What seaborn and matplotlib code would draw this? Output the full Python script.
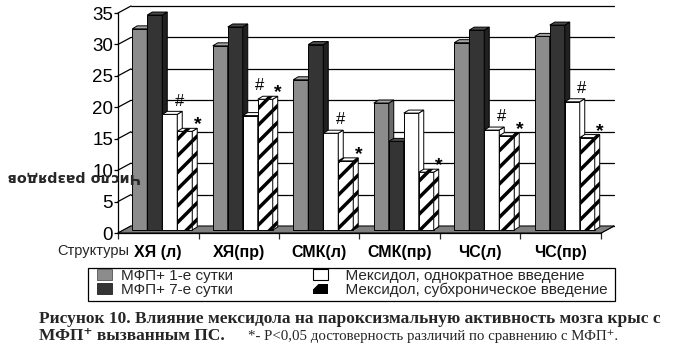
import matplotlib
matplotlib.use("Agg")
import numpy as np
import pandas as pd
import seaborn as sns
import matplotlib.pyplot as plt
from matplotlib.patches import Polygon, Patch, Rectangle
from matplotlib.transforms import ScaledTranslation
from matplotlib.lines import Line2D

# ---------------- data ----------------
structures = ["ХЯ (л)", "ХЯ(пр)", "СМК(л)", "СМК(пр)", "ЧС(л)", "ЧС(пр)"]
series_names = ["МФП+ 1-е сутки", "МФП+ 7-е сутки",
                "Мексидол, однократное введение",
                "Мексидол, субхроническое введение"]
mfp_day1 = [32.0, 29.3, 23.9, 20.2, 29.8, 30.8]
mfp_day7 = [34.2, 32.3, 29.5, 14.1, 31.8, 32.6]
mexidol_single = [18.4, 18.2, 15.4, 18.6, 15.9, 20.4]
mexidol_subchronic = [15.7, 20.8, 11.0, 9.2, 15.0, 14.7]
hash_marked = [True, True, True, False, True, True]
star_marked = [True, True, True, True, True, True]
y_ticks = [0, 5, 10, 15, 20, 25, 30, 35]

# ---------------- style ----------------
sns.set_theme(style="white")
plt.rcParams["font.family"] = ["Liberation Sans", "DejaVu Sans"]
plt.rcParams["hatch.linewidth"] = 2.5

W, H = 675, 345
fig = plt.figure(figsize=(W / 100, H / 100), dpi=100)
fig.patch.set_facecolor("white")
ax_left, ax_right, ax_bottom, ax_top = 118, 601, 233, 13
ax = fig.add_axes([ax_left / W, 1 - ax_bottom / H,
                   (ax_right - ax_left) / W, (ax_bottom - ax_top) / H])
ax.set_facecolor("none")

colors = {series_names[0]: "#8c8c8c", series_names[1]: "#343434",
          series_names[2]: "#ffffff", series_names[3]: "#ffffff"}
top_colors = ["#a6a6a6", "#4a4a4a", "#ffffff", "#ffffff"]
side_colors = ["#6a6a6a", "#202020", "#ffffff", "#ffffff"]

rows = []
for name, vals in zip(series_names, [mfp_day1, mfp_day7, mexidol_single, mexidol_subchronic]):
    for s, v in zip(structures, vals):
        rows.append({"structure": s, "series": name, "value": v})
df = pd.DataFrame(rows)

sns.barplot(data=df, x="structure", y="value", hue="series",
            order=structures, hue_order=series_names, palette=colors,
            width=0.745, saturation=1, edgecolor="black", linewidth=0.7,
            errorbar=None, legend=False, ax=ax)

ax.set_xlim(-0.5, len(structures) - 0.5)
ax.set_ylim(0, 35)

# pixel -> data conversions (axes geometry is fixed)
xpp = (len(structures)) / (ax_right - ax_left)
ypp = 35 / (ax_bottom - ax_top)

def shift(dx, dy):
    return ax.transData + ScaledTranslation(dx / 100, dy / 100, fig.dpi_scale_trans)

bar_tr = shift(4, 3)
ddx, ddy = 5 * xpp, 3 * ypp          # bar depth
fdx, fdy = 13 * xpp, 7 * ypp         # wall / floor depth

# 3D-ish bars
for k, cont in enumerate(ax.containers):
    for p in cont:
        x, w, h = p.get_x(), p.get_width(), p.get_height()
        p.set_transform(bar_tr)
        p.set_zorder(3 + k)
        hatch = "//" if k == 3 else None
        if hatch:
            p.set_hatch(hatch)
        side = Polygon([(x + w, 0), (x + w + ddx, ddy), (x + w + ddx, h + ddy), (x + w, h)],
                       closed=True, facecolor=side_colors[k], edgecolor="black",
                       linewidth=0.7, hatch=hatch, transform=bar_tr, zorder=3 + k, clip_on=False)
        top = Polygon([(x, h), (x + w, h), (x + w + ddx, h + ddy), (x + ddx, h + ddy)],
                      closed=True, facecolor=top_colors[k], edgecolor="black",
                      linewidth=0.7, hatch=hatch, transform=bar_tr, zorder=3 + k, clip_on=False)
        ax.add_patch(side)
        ax.add_patch(top)

# floor
xl, xr = -0.5, len(structures) - 0.5
ax.add_patch(Polygon([(xl, 0), (xr, 0), (xr + fdx, fdy), (xl + fdx, fdy)], closed=True,
                     facecolor="#808080", edgecolor="black", linewidth=0.7,
                     zorder=1, clip_on=False))
# back wall gridlines + connectors
for v in y_ticks:
    ax.add_line(Line2D([xl + fdx, xr + fdx], [v + fdy, v + fdy], color="black",
                       linewidth=0.9, zorder=0.5, clip_on=False))
    ax.add_line(Line2D([xl, xl + fdx], [v, v + fdy], color="black",
                       linewidth=0.9, zorder=0.5, clip_on=False))
ax.add_line(Line2D([xr, xr + fdx], [0, fdy], color="black", linewidth=0.9,
                   zorder=0.5, clip_on=False))

# significance marks
bar_w = 0.745 / 4
for i in range(len(structures)):
    xc_white = i - 0.745 / 2 + bar_w * 2.5
    xc_hatch = i - 0.745 / 2 + bar_w * 3.5
    if hash_marked[i]:
        ax.text(xc_white + 0.12, max(mexidol_single[i], mexidol_subchronic[i]) + 1.4, "#",
                ha="center", va="baseline", fontsize=12, color="black",
                transform=bar_tr, zorder=10)
    if star_marked[i]:
        ax.text(xc_hatch + 0.16, mexidol_subchronic[i] + 0.3, "*",
                ha="center", va="baseline", fontsize=14, fontweight="bold",
                color="black", transform=bar_tr, zorder=10)

# axes styling
for s in ["top", "right"]:
    ax.spines[s].set_visible(False)
for s in ["left", "bottom"]:
    ax.spines[s].set_color("black")
    ax.spines[s].set_linewidth(0.9)
    ax.spines[s].set_zorder(12)
ax.set_yticks(y_ticks)
ax.set_yticklabels([str(t) for t in y_ticks], fontsize=13.5)
ax.tick_params(axis="y", direction="out", length=3, width=0.9, pad=0.5, colors="black", left=True)
ax.set_xticks(range(len(structures)))
ax.set_xticklabels(structures, fontsize=11.5, fontweight="bold")
ax.set_xticks([b - 0.5 for b in range(len(structures) + 1)], minor=True)
ax.tick_params(axis="x", which="major", length=0, pad=9, colors="black")
ax.tick_params(axis="x", which="minor", direction="out", length=4, width=0.9, bottom=True)
ax.set_xlabel("")
ax.set_ylabel("")
ax.grid(False)

def fx(p):
    return p / W

def fy(p):
    return 1 - p / H

fig.text(fx(57), fy(251), "Структуры", fontsize=10.5, ha="left", va="center")
fig.text(fx(74), fy(177), "Число разрядов", fontsize=10.3, fontweight="bold",
         family=["DejaVu Sans"], rotation=180, ha="center", va="center", zorder=0)

# legend with its own frame
fig.add_artist(Rectangle((fx(88), fy(301)), fx(615) - fx(88), fy(268) - fy(301),
                         transform=fig.transFigure, facecolor="white",
                         edgecolor="black", linewidth=0.9))
handles = [Patch(facecolor="#8c8c8c", edgecolor="#555555", linewidth=0.6),
           Patch(facecolor="#343434", edgecolor="#222222", linewidth=0.6),
           Patch(facecolor="white", edgecolor="black", linewidth=0.8),
           Patch(facecolor="black", edgecolor="white", linewidth=0.0, hatch="/")]
labels = [series_names[0], series_names[1], "  " + series_names[2], "  " + series_names[3]]
fig.legend(handles, labels, loc="upper left", bbox_to_anchor=(fx(97), fy(269)),
           ncol=2, frameon=False, fontsize=11, handlelength=1.0, handleheight=0.7,
           handletextpad=0.6, columnspacing=5.2, labelspacing=0.0,
           borderpad=0, borderaxespad=0)

serif = ["Liberation Serif", "DejaVu Serif"]
fig.text(fx(39), fy(323),
         "Рисунок 10. Влияние мексидола на пароксизмальную активность мозга крыс с",
         fontsize=12.5, fontweight="bold", family=serif, ha="left", va="baseline")
fig.text(fx(39), fy(340), "МФП⁺ вызванным ПС.", fontsize=12.5, fontweight="bold",
         family=serif, ha="left", va="baseline")
fig.text(fx(248), fy(340), "*- P<0,05 достоверность различий по сравнению с МФП⁺.",
         fontsize=10.7, family=serif, ha="left", va="baseline")

fig.savefig("out.png", dpi=100, facecolor="white")
